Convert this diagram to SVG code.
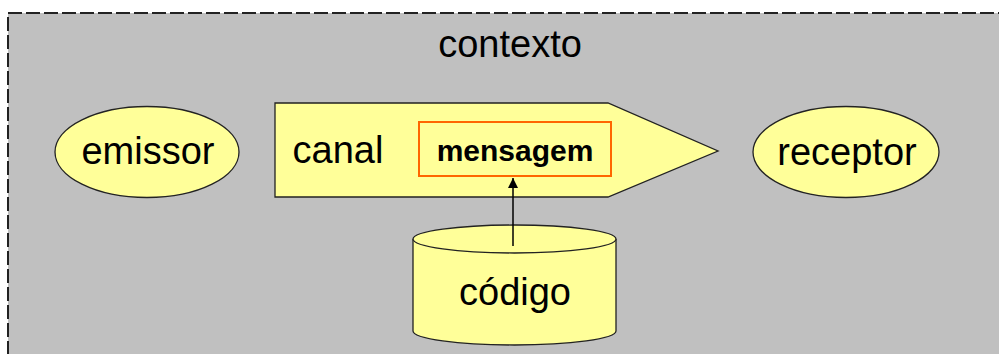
<svg xmlns="http://www.w3.org/2000/svg" width="999" height="354" viewBox="0 0 999 354">
<style>
.shape{fill:#FFFF99;stroke:#222;stroke-width:1.3}
.t{font-family:"Liberation Sans",Arial,sans-serif;font-size:38px;fill:#000;text-anchor:middle}
.b{font-weight:bold;font-size:30px}
</style>
<defs>
<marker id="ah" viewBox="0 0 10 10" refX="10" refY="5" markerWidth="10" markerHeight="12" markerUnits="userSpaceOnUse" orient="auto">
<path d="M0,0 L10,5 L0,10 z" fill="#000"/>
</marker>
</defs>
<rect width="999" height="354" fill="#FFFFFF"/>
<g id="contexto">
<rect x="8" y="13" width="1010" height="360" fill="#C0C0C0"/>
<path d="M8,373 L8,13 L999,13" fill="none" stroke="#222" stroke-width="2" stroke-dasharray="14 4"/>
<text class="t" x="510" y="57">contexto</text>
</g>
<g id="emissor">
<ellipse class="shape" cx="147" cy="152" rx="92" ry="45.5"/>
<text class="t" x="148" y="164">emissor</text>
</g>
<g id="receptor">
<ellipse class="shape" cx="846" cy="152" rx="93" ry="45.5"/>
<text class="t" x="847" y="165">receptor</text>
</g>
<g id="canal">
<polygon class="shape" points="275,103 608,103 718,151 608,197 275,197"/>
<text class="t" x="338" y="163">canal</text>
</g>
<g id="mensagem">
<rect x="419" y="122" width="192" height="54" fill="none" stroke="#FF6600" stroke-width="2"/>
<text class="t b" x="515" y="161">mensagem</text>
</g>
<g id="codigo">
<path class="shape" d="M413,239 L413,331 A101.5,14 0 0 0 616,331 L616,239"/>
<ellipse class="shape" cx="514.5" cy="239" rx="101.5" ry="14" fill="#FFFFBB"/>
<text class="t" x="515" y="305">código</text>
</g>
<g id="connectors">
<line x1="513" y1="246" x2="513" y2="178" stroke="#000" stroke-width="1.5" marker-end="url(#ah)"/>
</g>
</svg>
